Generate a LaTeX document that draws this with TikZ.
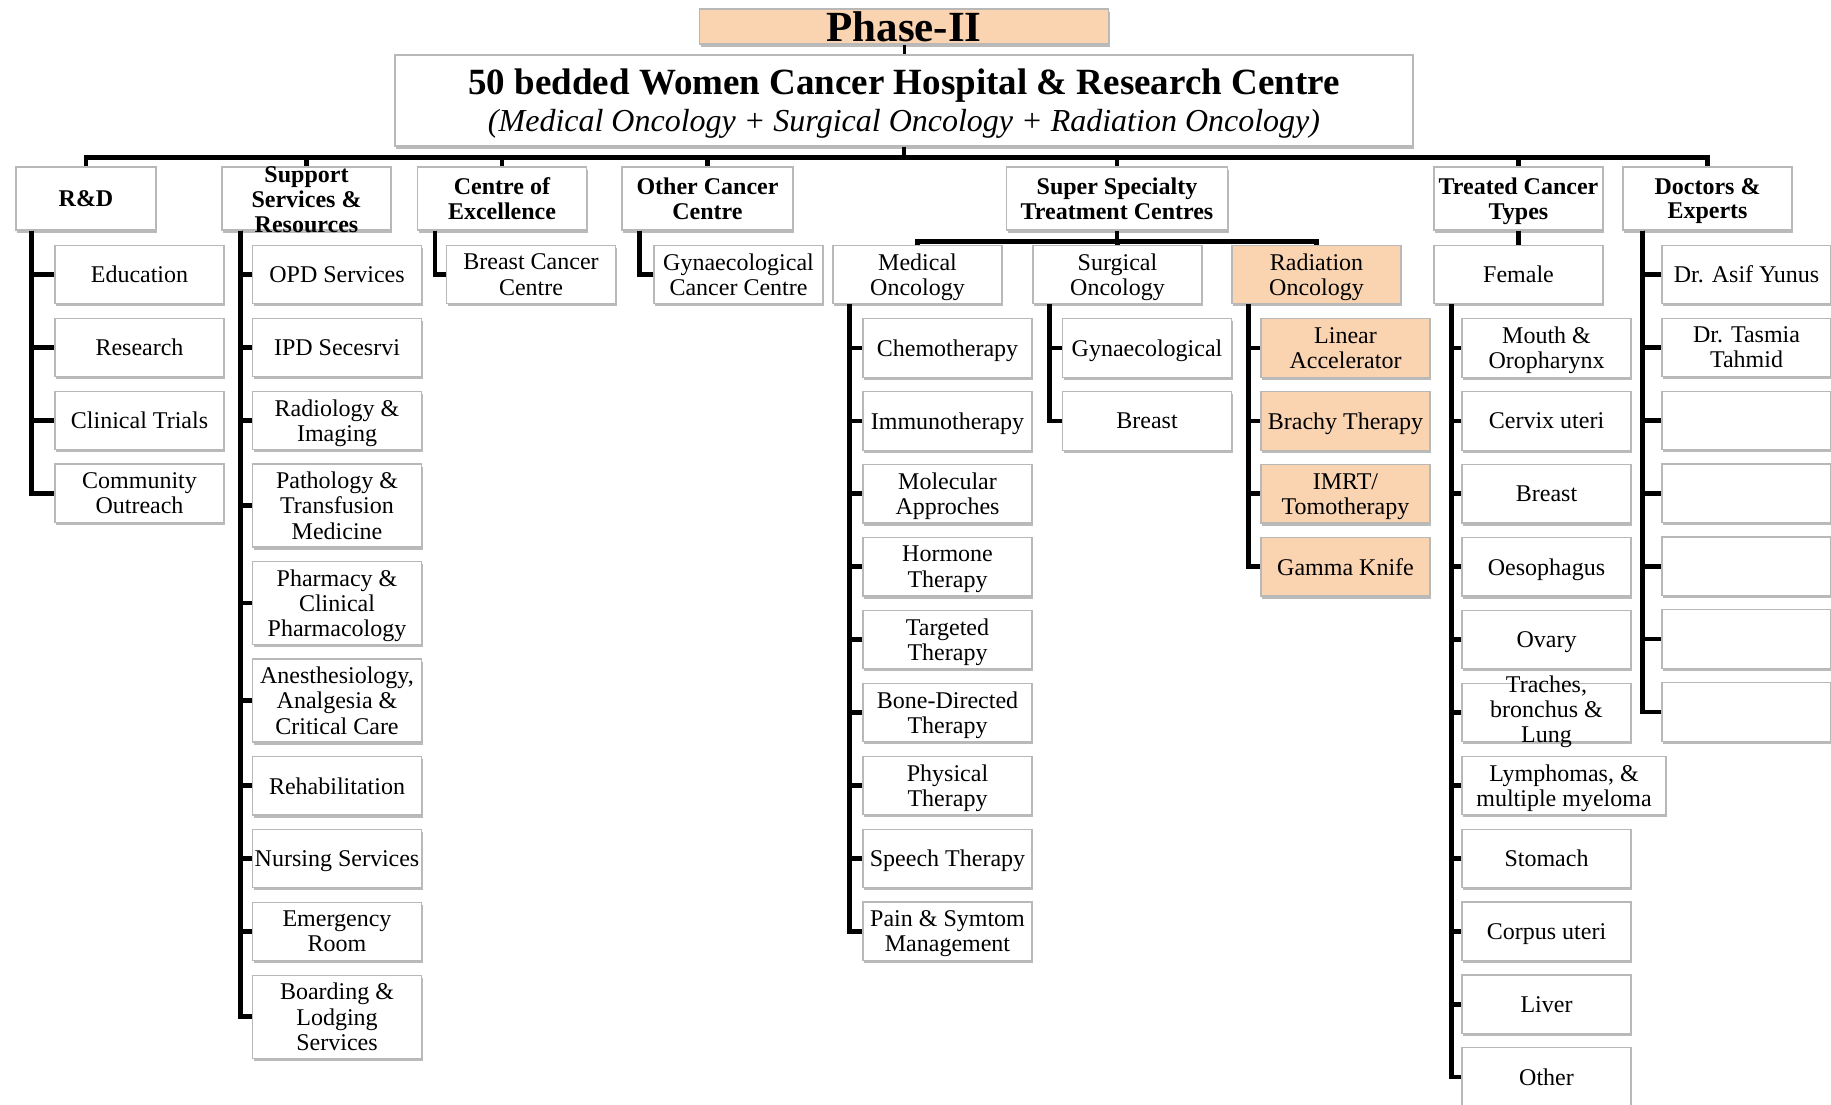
\documentclass[tikz,border=0pt]{standalone}
\usepackage{fontspec}
\setmainfont{Liberation Serif}
\usetikzlibrary{positioning,shadows}
\definecolor{peach}{RGB}{250,211,177}
\newcommand\tightstack[2]{\smash{\raisebox{#1}{\begin{tabular}[c]{@{}c@{}}#2\end{tabular}}}}

\begin{document}
\begin{tikzpicture}[
                x=0.5pt, y=-0.5pt,
                node distance=6.65pt,
                box/.style={rectangle, draw=black!28, line width=0.6pt, fill=white,
                    minimum width=84.5pt, minimum height=29.2pt, inner xsep=1pt, inner ysep=2.5pt,
                    text depth=0pt, align=center, font=\fontsize{12}{12.6}\selectfont,
                    drop shadow={shadow xshift=0.7pt, shadow yshift=-1.3pt, fill=black!45, opacity=0.6}},
                head/.style={box, minimum height=31.5pt, font=\bfseries\fontsize{12}{12.3}\selectfont},
                tall/.style={minimum height=41.5pt},
                hl/.style={fill=peach},
                elbow/.style={to path={|- (\tikztotarget)}},
                branch/.style={to path={-| (\tikztotarget)}},
                every edge/.style={draw, line width=2.4pt}
                ]
            \useasboundingbox (0,0) rectangle (1831,1104);
            % Top
            \node[box, hl, minimum width=204.5pt, minimum height=17.5pt, inner ysep=0pt,
                  font=\bfseries\fontsize{21.5}{21.5}\selectfont] (phase) at (904,26.5) {Phase-II};
            \node[box, minimum width=509pt, minimum height=45.5pt, font=\fontsize{16}{18.5}\selectfont] (hosp) at (904,100.5)
                {{\bfseries\fontsize{18.5}{18.5}\selectfont 50 bedded Women Cancer Hospital \& Research Centre}\\
                 {\itshape (Medical Oncology + Surgical Oncology + Radiation Oncology)}};
            % Heads
            \node[head, minimum width=70pt] (rd) at (86,198.5) {R\&D};
            \node[head] (sup) at (306.5,198.5) {\tightstack{-5pt}{Support\\Services \&\\Resources}};
            \node[head] (coe) at (502,198.5) {Centre of\\Excellence};
            \node[head, minimum width=85.5pt] (occ) at (707.5,198.5) {Other Cancer\\Centre};
            \node[head, minimum width=110.5pt] (sst) at (1117,198.5) {Super Specialty\\Treatment Centres};
            \node[head] (tct) at (1518.5,198.5) {Treated Cancer\\Types};
            \node[head] (doc) at (1707.5,198.5) {Doctors \&\\Experts};
            % R&D
            \node[box] (edu) at (139.5,274.5) {Education};
            \node[box, below=of edu] (res) {Research};
            \node[box, below=of res] (trial) {Clinical Trials};
            \node[box, below=of trial] (outr) {Community\\Outreach};
            % Support
            \node[box] (opd) at (337,274.5) {OPD Services};
            \node[box, below=of opd] (ipd) {IPD Secesrvi};
            \node[box, below=of ipd] (radio) {Radiology \&\\Imaging};
            \node[box, tall, below=of radio] (patho) {Pathology \&\\Transfusion\\Medicine};
            \node[box, tall, below=of patho] (pharm) {Pharmacy \&\\Clinical\\Pharmacology};
            \node[box, tall, below=of pharm] (anes) {Anesthesiology,\\Analgesia \&\\Critical Care};
            \node[box, below=of anes] (rehab) {Rehabilitation};
            \node[box, below=of rehab] (nurse) {Nursing Services};
            \node[box, below=of nurse] (emer) {Emergency\\Room};
            \node[box, tall, below=of emer] (board) {Boarding \&\\Lodging\\Services};
            % Centres
            \node[box] (bcc) at (531,274.5) {Breast Cancer\\Centre};
            \node[box] (gcc) at (738.5,274.5) {Gynaecological\\Cancer Centre};
            % Super specialty
            \node[box] (med) at (917.5,274.5) {Medical\\Oncology};
            \node[box] (surg) at (1117.5,274.5) {Surgical\\Oncology};
            \node[box, hl] (rad) at (1316.5,274.5) {Radiation\\Oncology};
            \node[box] (chemo) at (947.5,348) {Chemotherapy};
            \node[box, below=of chemo] (immuno) {Immunotherapy};
            \node[box, below=of immuno] (molec) {Molecular\\Approches};
            \node[box, below=of molec] (hormone) {Hormone\\Therapy};
            \node[box, below=of hormone] (target) {Targeted\\Therapy};
            \node[box, below=of target] (bone) {Bone-Directed\\Therapy};
            \node[box, below=of bone] (phys) {Physical\\Therapy};
            \node[box, below=of phys] (speech) {Speech Therapy};
            \node[box, below=of speech] (pain) {Pain \& Symtom\\Management};
            \node[box] (gyn) at (1147,348) {Gynaecological};
            \node[box, below=of gyn] (sbreast) {Breast};
            \node[box, hl] (linac) at (1345.5,348) {Linear\\Accelerator};
            \node[box, hl, below=of linac] (brachy) {Brachy Therapy};
            \node[box, hl, below=of brachy] (imrt) {IMRT/\\Tomotherapy};
            \node[box, hl, below=of imrt] (gamma) {Gamma Knife};
            % Cancer types
            \node[box] (fem) at (1518.5,274.5) {Female};
            \node[box] (mouth) at (1546.5,348) {Mouth \&\\Oropharynx};
            \node[box, below=of mouth] (cervix) {Cervix uteri};
            \node[box, below=of cervix] (fbreast) {Breast};
            \node[box, below=of fbreast] (oeso) {Oesophagus};
            \node[box, below=of oeso] (ovary) {Ovary};
            \node[box, below=of ovary] (lung) {\tightstack{-3pt}{Traches,\\bronchus \&\\Lung}};
            \node[box, minimum width=102pt, below=of lung.south west, anchor=north west] (lymph) {Lymphomas, \&\\multiple myeloma};
            \node[box, below=of lymph.south west, anchor=north west] (stomach) {Stomach};
            \node[box, below=of stomach] (corpus) {Corpus uteri};
            \node[box, below=of corpus] (liver) {Liver};
            \node[box, below=of liver] (other) {Other};
            % Doctors
            \node[box] (asif) at (1746.5,274.5) {Dr. Asif Yunus};
            \node[box, below=of asif] (tasmia) {Dr. Tasmia\\Tahmid};
            \node[box, below=of tasmia] (drc) {};
            \node[box, below=of drc] (drd) {};
            \node[box, below=of drd] (dre) {};
            \node[box, below=of dre] (drf) {};
            \node[box, below=of drf] (drg) {};
            % Edges
            \coordinate (bus) at ([yshift=-5.25pt]hosp.south);
            \coordinate (ssbus) at ([yshift=-5.25pt]sst.south);
            \path
            (phase.south) edge[line width=1.5pt] (hosp.north)
            (hosp.south) edge (bus)
            (bus) edge[branch] (rd.north) edge[branch] (sup.north) edge[branch] (coe.north)
                  edge[branch] (occ.north) edge[branch] (sst.north) edge[branch] (tct.north)
                  edge[branch] (doc.north)
            (sst.south) edge (ssbus)
            (ssbus) edge[branch] (med.north) edge[branch] (surg.north) edge[branch] (rad.north)
            (tct.south) edge (fem.north);
            \path
            ([xshift=8pt]rd.south west) edge[elbow] (edu.west) edge[elbow] (res.west)
                edge[elbow] (trial.west) edge[elbow] (outr.west)
            ([xshift=9.5pt]sup.south west) edge[elbow] (opd.west) edge[elbow] (ipd.west)
                edge[elbow] (radio.west) edge[elbow] (patho.west) edge[elbow] (pharm.west)
                edge[elbow] (anes.west) edge[elbow] (rehab.west) edge[elbow] (nurse.west)
                edge[elbow] (emer.west) edge[elbow] (board.west)
            ([xshift=9pt]coe.south west) edge[elbow] (bcc.west)
            ([xshift=9pt]occ.south west) edge[elbow] (gcc.west)
            ([xshift=8.5pt]med.south west) edge[elbow] (chemo.west) edge[elbow] (immuno.west)
                edge[elbow] (molec.west) edge[elbow] (hormone.west) edge[elbow] (target.west)
                edge[elbow] (bone.west) edge[elbow] (phys.west) edge[elbow] (speech.west)
                edge[elbow] (pain.west)
            ([xshift=8.5pt]surg.south west) edge[elbow] (gyn.west) edge[elbow] (sbreast.west)
            ([xshift=8.5pt]rad.south west) edge[elbow] (linac.west) edge[elbow] (brachy.west)
                edge[elbow] (imrt.west) edge[elbow] (gamma.west)
            ([xshift=9pt]fem.south west) edge[elbow] (mouth.west) edge[elbow] (cervix.west)
                edge[elbow] (fbreast.west) edge[elbow] (oeso.west) edge[elbow] (ovary.west)
                edge[elbow] (lung.west) edge[elbow] (lymph.west) edge[elbow] (stomach.west)
                edge[elbow] (corpus.west) edge[elbow] (liver.west) edge[elbow] (other.west)
            ([xshift=10pt]doc.south west) edge[elbow] (asif.west) edge[elbow] (tasmia.west)
                edge[elbow] (drc.west) edge[elbow] (drd.west) edge[elbow] (dre.west)
                edge[elbow] (drf.west) edge[elbow] (drg.west);

            \end{tikzpicture}
\end{document}
